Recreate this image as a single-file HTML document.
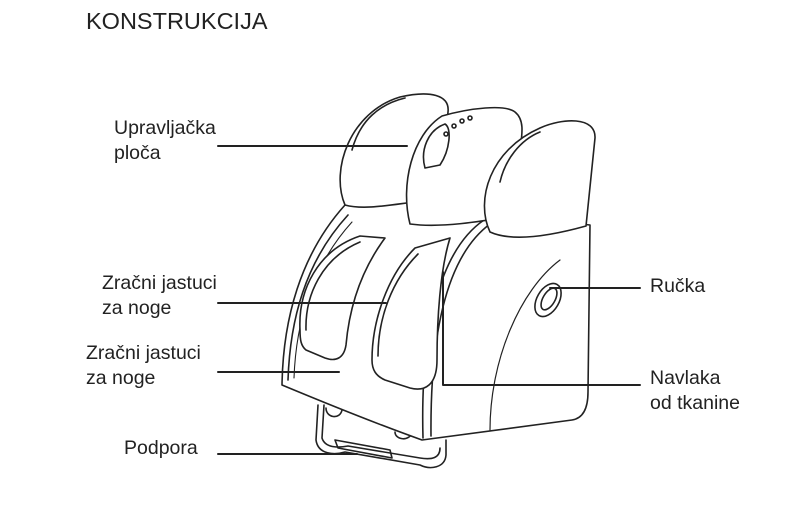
<!DOCTYPE html>
<html><head><meta charset="utf-8"><style>
html,body{margin:0;padding:0;background:#fff;}
body{width:805px;height:517px;position:relative;overflow:hidden;font-family:"Liberation Sans",sans-serif;color:#222;}
.t{position:absolute;font-size:19.5px;line-height:25px;white-space:nowrap;}
</style></head><body>
<div class="t" style="left:86px;top:6px;font-size:23.5px;line-height:30px;">KONSTRUKCIJA</div>
<div class="t" style="left:114px;top:116px;">Upravljačka<br>ploča</div>
<div class="t" style="left:102px;top:271px;">Zračni jastuci<br>za noge</div>
<div class="t" style="left:86px;top:341px;">Zračni jastuci<br>za noge</div>
<div class="t" style="left:124px;top:436px;">Podpora</div>
<div class="t" style="left:650px;top:274px;">Ručka</div>
<div class="t" style="left:650px;top:366px;">Navlaka<br>od tkanine</div>
<svg width="805" height="517" style="position:absolute;left:0;top:0" fill="none" stroke="#222" stroke-width="1.6" stroke-linejoin="round" stroke-linecap="round">
<!-- base frame -->
<path d="M318,405 L316,440 C318,455 335,455 345,452 L420,465 C430,470 445,468 446,455 L446,440"/>
<path d="M324,405 L322,438 C325,448 338,448 348,446 L420,458 C432,460 440,458 440,448"/>
<path d="M335,440 L390,450 L392,458 L338,448 Z"/>
<path d="M395,432 C395,440 410,442 412,432"/>
<path d="M326,408 C326,418 340,420 342,410"/>
<!-- body -->
<path fill="#fff" d="M282,385 C283,320 300,255 345,205 L440,200 L500,215 L590,225 L588,392 C588,405 585,418 572,420 L422,440 C380,425 330,405 282,385 Z"/>
<path d="M288,380 C290,320 305,262 348,215"/>
<path d="M294,378 C296,322 312,266 352,222" stroke-width="1.1"/>
<path d="M484,220 C440,250 420,330 423,438"/>
<path d="M490,224 C448,255 430,330 431,436"/>
<path d="M560,260 C520,290 490,360 490,430" stroke-width="1.2"/>
<!-- cushion 1 -->
<path fill="#fff" d="M300,330 C298,290 318,250 360,236 L385,238 C365,265 350,300 346,345 C344,358 336,362 325,358 L306,350 C301,346 300,340 300,330 Z"/>
<path d="M306,330 C305,295 322,258 360,242"/>
<!-- cushion 2 -->
<path fill="#fff" d="M372,360 C372,320 388,275 415,248 L450,238 C440,270 437,320 437,360 C437,385 425,392 410,388 L385,380 C376,376 372,370 372,360 Z"/>
<path d="M378,356 C378,318 392,280 418,254"/>
<!-- handle -->
<ellipse cx="548" cy="300" rx="11" ry="18" transform="rotate(30 548 300)" fill="#fff"/>
<ellipse cx="549" cy="299" rx="6" ry="12" transform="rotate(30 549 299)"/>
<!-- left head -->
<path fill="#fff" d="M345,205 C330,170 350,112 400,97 C430,90 450,95 448,112 L440,200 C410,200 370,212 345,205 Z"/>
<path d="M352,150 C360,120 380,104 405,98"/>
<!-- middle head -->
<path fill="#fff" d="M410,224 C400,185 412,135 442,116 C470,108 505,104 515,112 C525,120 522,135 520,150 L518,215 C480,222 440,228 410,224 Z"/>
<path d="M425,168 C420,150 428,130 445,124 C452,128 450,150 440,165 Z"/>
<circle cx="446" cy="134" r="2"/><circle cx="454" cy="126" r="2"/><circle cx="462" cy="121" r="2"/><circle cx="470" cy="118" r="2"/>
<!-- right head -->
<path fill="#fff" d="M490,232 C475,200 490,150 540,128 C562,118 596,116 595,138 L586,226 C550,236 512,242 490,232 Z"/>
<path d="M500,182 C505,160 520,140 540,132"/>
<!-- leaders -->
<g stroke-width="2">
<path d="M218,146 L407,146"/>
<path d="M218,303 L386,303"/>
<path d="M218,372 L339,372"/>
<path d="M218,454 L357,454"/>
<path d="M550,288 L640,288"/>
<path d="M443,272 L443,385 L640,385"/>
</g>
</svg>
</body></html>
